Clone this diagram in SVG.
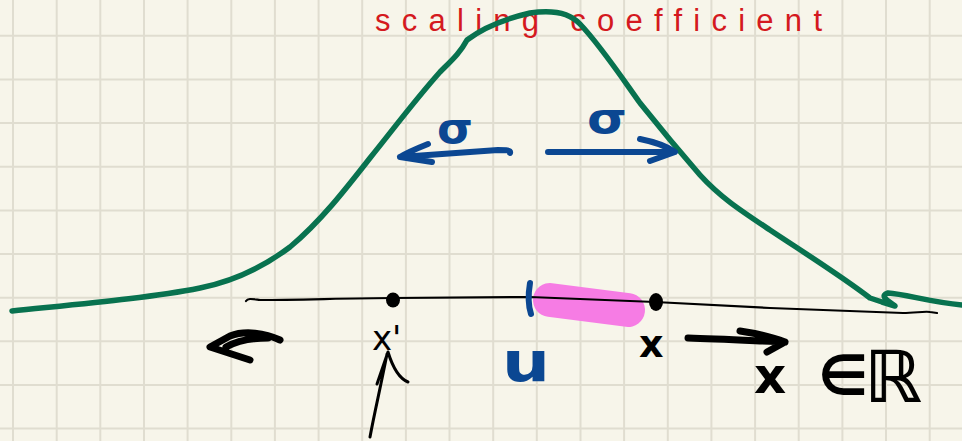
<svg xmlns="http://www.w3.org/2000/svg" width="962" height="441" viewBox="0 0 962 441">
<defs>
<style>
.grid line{stroke:#e0ddd0;stroke-width:2}
.ink{fill:none;stroke-linecap:round;stroke-linejoin:round}
.green{stroke:#08724f;stroke-width:5.5}
.blue{stroke:#0b4792;stroke-width:6}
.black{stroke:#000;stroke-width:7}
.thin{stroke:#000;stroke-width:2.2}
.hand{font-family:"DejaVu Sans",sans-serif}
</style>
</defs>
<rect width="962" height="441" fill="#f7f5ea"/>
<g class="grid">
<line x1="13" y1="0" x2="13" y2="441"/><line x1="56.7" y1="0" x2="56.7" y2="441"/><line x1="100.3" y1="0" x2="100.3" y2="441"/><line x1="144" y1="0" x2="144" y2="441"/><line x1="187.6" y1="0" x2="187.6" y2="441"/><line x1="231.3" y1="0" x2="231.3" y2="441"/><line x1="274.9" y1="0" x2="274.9" y2="441"/><line x1="318.6" y1="0" x2="318.6" y2="441"/><line x1="362.2" y1="0" x2="362.2" y2="441"/><line x1="405.9" y1="0" x2="405.9" y2="441"/><line x1="449.5" y1="0" x2="449.5" y2="441"/><line x1="493.2" y1="0" x2="493.2" y2="441"/><line x1="536.8" y1="0" x2="536.8" y2="441"/><line x1="580.5" y1="0" x2="580.5" y2="441"/><line x1="624.1" y1="0" x2="624.1" y2="441"/><line x1="667.8" y1="0" x2="667.8" y2="441"/><line x1="711.4" y1="0" x2="711.4" y2="441"/><line x1="755.1" y1="0" x2="755.1" y2="441"/><line x1="798.7" y1="0" x2="798.7" y2="441"/><line x1="842.4" y1="0" x2="842.4" y2="441"/><line x1="886" y1="0" x2="886" y2="441"/><line x1="929.7" y1="0" x2="929.7" y2="441"/>
<line x1="0" y1="35.8" x2="962" y2="35.8"/><line x1="0" y1="79.4" x2="962" y2="79.4"/><line x1="0" y1="123" x2="962" y2="123"/><line x1="0" y1="166.7" x2="962" y2="166.7"/><line x1="0" y1="210.4" x2="962" y2="210.4"/><line x1="0" y1="254" x2="962" y2="254"/><line x1="0" y1="297.7" x2="962" y2="297.7"/><line x1="0" y1="341.3" x2="962" y2="341.3"/><line x1="0" y1="385" x2="962" y2="385"/><line x1="0" y1="428.6" x2="962" y2="428.6"/>
</g>
<g id="title">
<text x="375" y="31" font-family="Liberation Sans, sans-serif" font-size="31" fill="#d41920" textLength="447" lengthAdjust="spacing">scaling coefficient</text>
</g>
<g id="curve">
<path class="ink green" d="M12,311 C80,304 150,298 200,288 C240,280 270,262 290,247 C320,222 345,190 370,158 C395,127 415,100 440,72 C452,60 460,53 467,40 C480,30 500,20 530,13 C550,10 568,11 580,24 C600,45 620,75 640,103 C660,128 680,152 700,175 C720,197 740,210 770,230 C800,250 840,275 870,298 L882,302 L895,306 C890,302 878,296 888,293 C905,294 930,302 962,305"/>
</g>
<g id="interval">
<path class="ink" d="M550,300 L628,310" stroke="#f67ce4" stroke-width="34"/>
</g>
<g id="axis">
<path class="ink thin" d="M246,301 C248,298 252,299 260,300 C300,300 350,298 393,298 L530,297 L655,302 L770,308 L903,313 C915,313 925,311 930,312 L937,313"/>
<ellipse cx="393" cy="300" rx="7" ry="7.5" fill="#000"/>
<ellipse cx="656" cy="302" rx="7" ry="9" fill="#000"/>
<path class="ink" d="M530,283 C528,295 528,305 531,314" stroke="#0b4792" stroke-width="6"/>
</g>
<g id="connectors">
<path class="ink blue" d="M510,153 C511,150 506,150 498,150 L400,157 M428,144 C418,148 408,152 400,157 L432,162"/>
<path class="ink blue" d="M548,152 L673,152 M640,139 C655,142 668,147 675,152 L650,161"/>
<path class="ink black" d="M280,340 C265,333 245,330 230,336 L210,347 L250,360 M226,347 C235,342 250,338 268,338"/>
<path class="ink black" d="M688,338 C720,339 760,341 785,342 M740,331 C760,334 775,338 785,342 L767,352"/>
<path class="ink" stroke="#000" stroke-width="3" d="M370,437 C375,410 380,390 387,354 M377,384 L388,352 C392,365 398,378 408,382"/>
</g>
<g id="sigma-left"><text class="hand" x="437" y="143" font-size="42" font-weight="bold" fill="#0b4792" textLength="36" lengthAdjust="spacingAndGlyphs">σ</text></g>
<g id="sigma-right"><text class="hand" x="587" y="133" font-size="42" font-weight="bold" fill="#0b4792" textLength="40" lengthAdjust="spacingAndGlyphs">σ</text></g>
<g id="label-xprime"><text class="hand" x="372" y="350" font-size="34" fill="#000">x'</text></g>
<g id="label-u"><text class="hand" x="502" y="381" font-size="55" font-weight="bold" fill="#0b4792" textLength="48" lengthAdjust="spacingAndGlyphs">u</text></g>
<g id="label-x"><text class="hand" x="639" y="357" font-size="38" font-weight="bold" fill="#000">x</text></g>
<g id="label-xinR">
<text class="hand" x="754" y="393" font-size="50" font-weight="bold" fill="#000">x</text>
<text class="hand" x="818" y="395" font-size="56" font-weight="bold" fill="#000">∈</text>
<text class="hand" x="864" y="402" font-size="72" font-weight="bold" fill="#000">ℝ</text>
</g>
</svg>
